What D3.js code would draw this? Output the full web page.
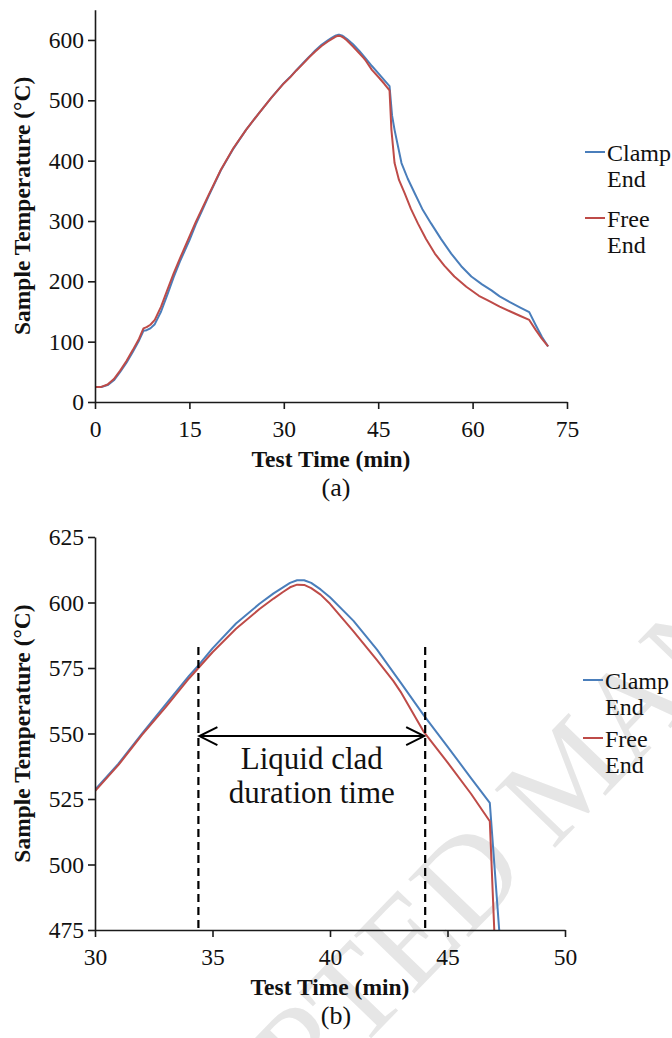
<!DOCTYPE html>
<html>
<head>
<meta charset="utf-8">
<script src="https://cdn.jsdelivr.net/npm/d3@7"></script>
<style>
  body { margin: 0; background: #fff; }
  text { font-family: "Liberation Serif", "Times New Roman", serif; fill: #111; }
</style>
</head>
<body>
<div id="chart"></div>
<script>
// Test time (min) and sample temperature (°C)
var clampTime = [0, 1, 2, 3, 4, 5, 6, 7, 7.7, 8.2, 8.8, 9.5, 10.5, 11.5, 12.5, 13.5, 15, 16, 17, 18, 20, 22, 24, 26, 28,
                 30, 31, 32, 33, 34, 34.4, 35, 36, 37, 37.6, 38, 38.3, 38.6, 38.9, 39.2, 39.6, 40, 41, 42, 42.8, 43, 44, 45, 46, 46.8,
                 47.2, 47.6, 48.7, 49.7, 50.8, 52, 53.4, 55, 56.6, 58.2, 59.8, 61.5, 63, 64.3, 66, 67.5, 69, 70, 71, 72];
var clampTemp = [25, 25, 28, 36, 50, 65, 83, 102, 118, 119, 122, 129, 150, 178, 207, 233, 268, 294, 317, 340, 384, 420, 451, 478, 504,
                 528.5, 538.5, 550, 561, 572, 576, 582.5, 592, 599.5, 603.5, 605.8, 607.5, 608.5, 608.5, 607.5, 605, 602, 593, 582, 572, 569.5, 556.8, 545, 533, 523.5,
                 475, 451, 396, 370, 346, 320, 296, 270, 246, 225, 208, 195, 185, 175, 165, 157, 149, 128, 108, 92];

var freeTime = [0, 1, 2, 3, 4, 5, 6, 7, 7.7, 8.2, 8.8, 9.5, 10.5, 11.5, 12.5, 13.5, 15, 16, 17, 18, 20, 22, 24, 26, 28,
                30, 31, 32, 33, 34, 34.4, 35, 36, 37, 37.6, 38, 38.3, 38.6, 38.9, 39.2, 39.6, 40, 41, 42, 42.7, 43, 44, 45, 46, 46.8,
                47.1, 47.6, 48.3, 49.2, 50.2, 51.3, 52.6, 54, 55.5, 57.1, 59, 61, 62.5, 64.3, 66, 67.5, 69, 70, 71, 72];
var freeTemp = [25, 25, 29, 38, 52, 68, 86, 105, 122, 124, 128, 136, 158, 186, 213, 238, 274, 298, 320, 342, 385, 421, 451, 478, 504,
                528, 538, 549.5, 560, 571, 575, 581, 590, 597.5, 601.5, 604, 605.8, 606.8, 606.7, 605.5, 603, 599.5, 589, 578, 570, 566, 550.5, 539, 527, 516.5,
                451, 396, 368, 346, 320, 296, 270, 246, 226, 208, 191, 176, 168, 158, 150, 143, 136, 120, 105, 92];

var seriesNames = ["Clamp End", "Free End"];
var seriesColors = ["#4a7ebb", "#be4b48"];

var topXTicks = [0, 15, 30, 45, 60, 75];
var topYTicks = [0, 100, 200, 300, 400, 500, 600];
var zoomXTicks = [30, 35, 40, 45, 50];
var zoomYTicks = [475, 500, 525, 550, 575, 600, 625];

// liquid clad window marked in panel (b)
var cladStart = 34.4, cladEnd = 44.05, cladArrowTemp = 549, cladLineTop = 583;

var W = 672, H = 1038;
var svg = d3.select("#chart").append("svg")
    .attr("width", W)
    .attr("height", H);

svg.append("rect").attr("width", W).attr("height", H).attr("fill", "#fff");

// faint watermark behind the plots
svg.append("text")
    .attr("transform", "translate(566,772) rotate(-46)")
    .attr("text-anchor", "middle")
    .attr("dy", "0.35em")
    .style("font-size", "128px")
    .style("fill", "#e6e6e6")
    .text("ACCEPTED MANUSCRIPT");

var series = [
    { name: seriesNames[0], color: seriesColors[0], pts: clampTime.map(function(t, i) { return [t, clampTemp[i]]; }) },
    { name: seriesNames[1], color: seriesColors[1], pts: freeTime.map(function(t, i) { return [t, freeTemp[i]]; }) }
];

function drawPanel(o) {
    var x = d3.scaleLinear().domain(o.xDomain).range([o.left, o.right]);
    var y = d3.scaleLinear().domain(o.yDomain).range([o.bottom, o.top]);
    var g = svg.append("g");

    var clipId = "clip-" + o.id;
    g.append("clipPath").attr("id", clipId)
      .append("rect")
        .attr("x", o.left).attr("y", o.top)
        .attr("width", o.right - o.left).attr("height", o.bottom - o.top);

    var line = d3.line()
        .x(function(d) { return x(d[0]); })
        .y(function(d) { return y(d[1]); });

    var lines = g.append("g").attr("clip-path", "url(#" + clipId + ")");
    series.forEach(function(s) {
        lines.append("path")
            .attr("d", line(s.pts))
            .attr("fill", "none")
            .attr("stroke", s.color)
            .attr("stroke-width", 2)
            .attr("stroke-linejoin", "round");
    });

    if (o.extra) o.extra(g, x, y);

    var xAxis = g.append("g")
        .attr("transform", "translate(0," + o.bottom + ")")
        .call(d3.axisBottom(x).tickValues(o.xTicks).tickSize(7).tickSizeOuter(0).tickPadding(11));
    var yAxis = g.append("g")
        .attr("transform", "translate(" + o.left + ",0)")
        .call(d3.axisLeft(y).tickValues(o.yTicks).tickSize(7).tickSizeOuter(0).tickPadding(4));

    [xAxis, yAxis].forEach(function(a) {
        a.selectAll("path, line").attr("stroke", "#1a1a1a").attr("stroke-width", 1.6);
        a.selectAll("text").style("font-size", "23.5px").style("font-family", '"Liberation Serif", serif').attr("fill", "#111");
    });

    g.append("text")
        .attr("x", (o.left + o.right) / 2)
        .attr("y", o.bottom + 65)
        .attr("text-anchor", "middle")
        .style("font-size", "23.5px")
        .style("font-weight", "bold")
        .text("Test Time (min)");

    g.append("text")
        .attr("transform", "translate(22," + ((o.top + o.bottom) / 2) + ") rotate(-90)")
        .attr("text-anchor", "middle")
        .attr("dy", "0.35em")
        .style("font-size", "23.5px")
        .style("font-weight", "bold")
        .text("Sample Temperature (°C)");

    g.append("text")
        .attr("x", 336)
        .attr("y", o.bottom + 94)
        .attr("text-anchor", "middle")
        .style("font-size", "26px")
        .text(o.caption);

    // legend, names wrapped onto two lines
    series.forEach(function(s, i) {
        var ly = o.legendY[i];
        g.append("line")
            .attr("x1", o.legendX).attr("x2", o.legendX + 20)
            .attr("y1", ly).attr("y2", ly)
            .attr("stroke", s.color).attr("stroke-width", 2);
        var words = s.name.split(" ");
        var t = g.append("text")
            .attr("x", o.legendX + 22)
            .attr("y", ly + 9)
            .style("font-size", "24px");
        words.forEach(function(w, k) {
            t.append("tspan")
                .attr("x", o.legendX + 22)
                .attr("dy", k === 0 ? 0 : 26)
                .text(w);
        });
    });
}

drawPanel({
    id: "a",
    xDomain: [0, 75], yDomain: [0, 650],
    left: 95, right: 567, top: 9.8, bottom: 402,
    xTicks: topXTicks, yTicks: topYTicks,
    caption: "(a)",
    legendX: 585, legendY: [152, 218]
});

drawPanel({
    id: "b",
    xDomain: [30, 50], yDomain: [475, 625],
    left: 95, right: 565, top: 537, bottom: 930,
    xTicks: zoomXTicks, yTicks: zoomYTicks,
    caption: "(b)",
    legendX: 583, legendY: [680, 738],
    extra: function(g, x, y) {
        [cladStart, cladEnd].forEach(function(t) {
            g.append("line")
                .attr("x1", x(t)).attr("x2", x(t))
                .attr("y1", y(cladLineTop)).attr("y2", y(475))
                .attr("stroke", "#000")
                .attr("stroke-width", 2.2)
                .attr("stroke-dasharray", "8,5");
        });
        var ay = y(cladArrowTemp), x0 = x(cladStart) + 1, x1 = x(cladEnd) - 1;
        g.append("line")
            .attr("x1", x0).attr("x2", x1).attr("y1", ay).attr("y2", ay)
            .attr("stroke", "#000").attr("stroke-width", 2);
        g.append("path")
            .attr("d", "M" + (x0 + 18) + "," + (ay - 9) + "L" + x0 + "," + ay + "L" + (x0 + 18) + "," + (ay + 9))
            .attr("fill", "none").attr("stroke", "#000").attr("stroke-width", 2);
        g.append("path")
            .attr("d", "M" + (x1 - 18) + "," + (ay - 9) + "L" + x1 + "," + ay + "L" + (x1 - 18) + "," + (ay + 9))
            .attr("fill", "none").attr("stroke", "#000").attr("stroke-width", 2);
        var mid = (x(cladStart) + x(cladEnd)) / 2;
        g.append("text").attr("x", mid).attr("y", ay + 33)
            .attr("text-anchor", "middle").style("font-size", "31px").text("Liquid clad");
        g.append("text").attr("x", mid).attr("y", ay + 67)
            .attr("text-anchor", "middle").style("font-size", "31px").text("duration time");
    }
});
</script>
</body>
</html>
